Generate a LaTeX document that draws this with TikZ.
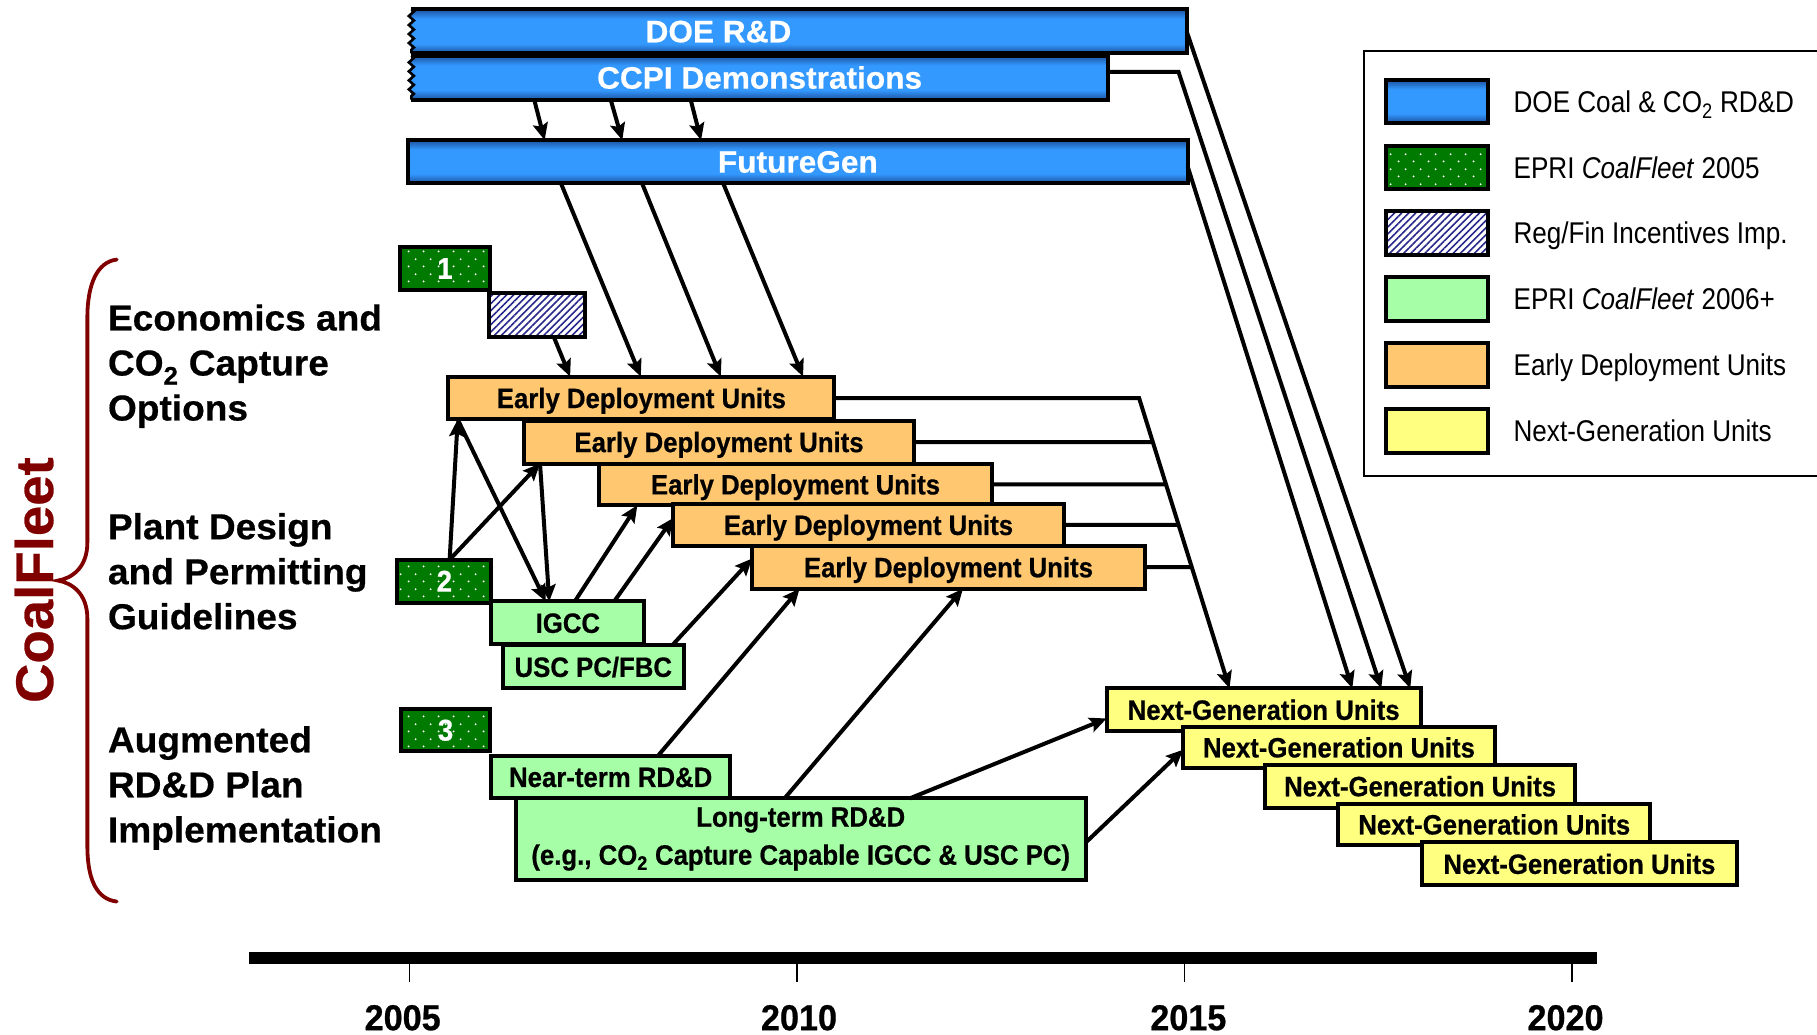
\documentclass[tikz,border=0pt]{standalone}
\usepackage{fontspec}
\setmainfont{Liberation Sans}
\newfontfamily\boxfont[FakeStretch=0.92,BoldFeatures={FakeBold=0.6}]{Liberation Sans}
\newfontfamily\barfont[FakeStretch=1.02,BoldFeatures={FakeBold=0.5}]{Liberation Sans}
\newfontfamily\legfont[FakeStretch=0.87]{Liberation Sans}
\newfontfamily\widefont[FakeStretch=1.03,BoldFeatures={FakeBold=0.5}]{Liberation Sans}
\newfontfamily\yearfont[FakeStretch=0.95,BoldFeatures={FakeBold=0.6}]{Liberation Sans}
\usetikzlibrary{calc,arrows.meta,patterns,patterns.meta,decorations.pathmorphing}

\definecolor{bluemid}{RGB}{51,153,255}
\definecolor{bluedk}{RGB}{28,82,160}
\definecolor{orlight}{RGB}{255,200,112}
\definecolor{ordark}{RGB}{255,153,0}
\definecolor{yelight}{RGB}{255,255,128}
\definecolor{yedark}{RGB}{255,255,0}
\definecolor{ltgreen}{RGB}{166,255,166}
\definecolor{dkgreen}{RGB}{0,122,0}
\definecolor{hatchblue}{RGB}{40,40,140}
\definecolor{cfred}{RGB}{128,0,0}

\pgfdeclareverticalshading{bluebar}{100bp}{color(0bp)=(bluedk); color(25bp)=(bluedk); color(36bp)=(bluemid); color(64bp)=(bluemid); color(75bp)=(bluedk); color(100bp)=(bluedk)}

\tikzdeclarepattern{
  name=sparsedots,
  type=uncolored,
  bounding box={(0pt,0pt) and (15pt,15pt)},
  tile size={(15pt,15pt)},
  code={\fill (3.75pt,3.75pt) circle[radius=1.1pt]; \fill (11.25pt,11.25pt) circle[radius=1.1pt];}
}

\begin{document}
\begin{tikzpicture}[x=1.1588pt,y=-1.1588pt,
  bx/.style n args={4}{minimum width={(#3-#1)*1.1588pt},minimum height={(#4-#2)*1.1588pt},at={({(#1+#3)/2},{(#2+#4)/2})}},
  box/.style={draw=black,line width=4pt,inner sep=0pt,outer sep=0pt,text height=20pt,text depth=0pt,font=\boxfont\bfseries\fontsize{28}{38}\selectfont},
  bluebarbox/.style={shade,shading=bluebar,inner sep=0pt,outer sep=0pt,text=white,text height=22pt,text depth=0pt,font=\barfont\bfseries\fontsize{31}{36}\selectfont},
  edu/.style={box,left color=orlight,middle color=ordark,right color=orlight},
  ngu/.style={box,left color=yelight,middle color=yedark,right color=yelight},
  lgr/.style={box,fill=ltgreen},
  dgr/.style={box,preaction={fill=dkgreen},pattern=sparsedots,pattern color=white,text=white,text height=21pt,font=\boxfont\bfseries\fontsize{30}{36}\selectfont},
  hatchbox/.style={box,preaction={fill=white},pattern={Lines[angle=45,distance=5pt,line width=1.6pt]},pattern color=hatchblue},
  arr/.style={line width=4pt,-{Stealth[length=17pt,width=15pt,inset=3pt]}},
  ln/.style={line width=4pt},
  lab/.style={align=left,inner sep=0pt,anchor=west,font=\widefont\bfseries\fontsize{36}{45}\selectfont},
  legtxt/.style={anchor=west,inner sep=0pt,text height=21.5pt,text depth=0pt,font=\legfont\fontsize{30}{36}\selectfont},
  year/.style={anchor=base,inner sep=0pt,font=\yearfont\bfseries\fontsize{36}{40}\selectfont}
]
\useasboundingbox (0,0) rectangle (1568,893);
\fill[white] (0,0) rectangle (1568,893);

% ---- top blue bars
\node[bluebarbox,bx={355}{8}{1024}{46}] (doe) {};
\draw[line width=4pt] (doe.north west) -- (doe.north east) -- (doe.south east) -- (doe.south west);
\draw[line width=2.6pt,decorate,decoration={zigzag,segment length=9pt,amplitude=2.5pt}] (doe.north west) -- (doe.south west);
\node[text=white,inner sep=0pt,text height=22pt,text depth=0pt,font=\barfont\bfseries\fontsize{31}{36}\selectfont] (doetxt) at (620,27) {DOE R\&D};

\node[bluebarbox,bx={355}{48}{956}{86}] (ccpi) {CCPI Demonstrations};
\draw[line width=4pt] (ccpi.north west) -- (ccpi.north east) -- (ccpi.south east) -- (ccpi.south west);
\draw[line width=2.6pt,decorate,decoration={zigzag,segment length=9pt,amplitude=2.5pt}] (ccpi.north west) -- (ccpi.south west);

\node[bluebarbox,draw=black,line width=4pt,bx={352}{121}{1025}{158}] (fg) {FutureGen};

% ---- left side boxes
\node[dgr,bx={345}{213}{423}{250}] (g1) {1};
\node[hatchbox,bx={422}{253}{505}{291}] (hat) {};

\node[edu,bx={387}{325}{720}{362}] (e1) {Early Deployment Units};
\node[edu,bx={452}{363}{789}{400}] (e2) {Early Deployment Units};
\node[edu,bx={517}{400}{856}{436}] (e3) {Early Deployment Units};
\node[edu,bx={581}{435}{918}{471}] (e4) {Early Deployment Units};
\node[edu,bx={649}{471}{988}{508}] (e5) {Early Deployment Units};

\node[dgr,bx={343}{483}{424}{520}] (g2) {2};
\node[lgr,bx={424}{519}{556}{556}] (igcc) {IGCC};
\node[lgr,bx={434}{557}{590}{594}] (usc) {USC PC/FBC};

\node[dgr,bx={346}{612}{423}{648}] (g3) {3};
\node[lgr,bx={424}{652}{630}{689}] (near) {Near-term RD\&D};
\node[lgr,bx={445}{689}{937}{759},align=center,text height=,text depth=] (long) {Long-term RD\&D\\(e.g., CO\textsubscript{2} Capture Capable IGCC \& USC PC)};

% ---- next generation
\node[ngu,bx={955}{594}{1226}{631}] (n1) {Next-Generation Units};
\node[ngu,bx={1021}{627}{1290}{663}] (n2) {Next-Generation Units};
\node[ngu,bx={1092}{660}{1359}{697}] (n3) {Next-Generation Units};
\node[ngu,bx={1155}{694}{1424}{729}] (n4) {Next-Generation Units};
\node[ngu,bx={1227}{727}{1499}{764}] (n5) {Next-Generation Units};

% ---- connectors
\draw[arr] ($(ccpi.south west)+(106,0)$) -- ($(fg.north west)+(118,0)$);
\draw[arr] ($(ccpi.south west)+(172,0)$) -- ($(fg.north west)+(185,0)$);
\draw[arr] ($(ccpi.south west)+(241,0)$) -- ($(fg.north west)+(253,0)$);

\draw[arr] ($(fg.south west)+(132,0)$) -- ($(e1.north west)+(166,0)$);
\draw[arr] ($(fg.south west)+(202,0)$) -- ($(e1.north west)+(235,0)$);
\draw[arr] ($(fg.south west)+(272,0)$) -- ($(e1.north west)+(306,0)$);

\draw[arr] ($(hat.south west)+(56,0)$) -- ($(e1.north west)+(105,0)$);

\draw[arr] ($(g2.north west)+(45,0)$) -- ($(e1.south west)+(8,0)$);
\draw[arr] ($(g2.north west)+(45,0)$) -- ($(e2.south west)+(14,0)$);
\draw[arr] ($(e1.south west)+(8,0)$) -- ($(igcc.north west)+(47,0)$);
\draw[arr] ($(e2.south west)+(14,0)$) -- ($(igcc.north west)+(50,0)$);
\draw[arr] ($(igcc.north west)+(72,0)$) -- ($(e3.south west)+(33,0)$);
\draw[arr] ($(igcc.north west)+(106,0)$) -- ($(e4.north west)+(0,12)$);
\draw[arr] ($(usc.north west)+(146,0)$) -- ($(e5.north west)+(0,11)$);
\draw[arr] ($(near.north west)+(144,0)$) -- ($(e5.south west)+(41,0)$);
\draw[arr] ($(long.north west)+(232,0)$) -- ($(e5.south west)+(182,0)$);
\draw[arr] ($(long.north west)+(340,0)$) -- ($(n1.north west)+(0,26)$);
\draw[arr] ($(long.north east)+(0,38)$) -- ($(n2.north west)+(0,20)$);

\coordinate (jt) at ($(e1.east)+(263,0)$);
\coordinate (jb) at ($(n1.north west)+(106,0)$);
\draw[arr] (e1.east) -- (jt) -- (jb);
\draw[ln] (e2.east) -- ($(jt)!0.1517!(jb)$);
\draw[ln] (e3.east) -- ($(jt)!0.2974!(jb)$);
\draw[ln] (e4.east) -- ($(jt)!0.4371!(jb)$);
\draw[ln] (e5.east) -- ($(jt)!0.5828!(jb)$);

\draw[arr] (doe.east) -- ($(n1.north west)+(262,0)$);
\draw[arr] ($(ccpi.north east)+(0,14)$) -- ($(ccpi.north east)+(61,14)$) -- ($(n1.north west)+(237,0)$);
\draw[arr] ($(fg.north east)+(0,23)$) -- ($(n1.north west)+(212,0)$);

% ---- left labels and brace
\node[lab] (lab1) at (93,316) {Economics and\\CO\textsubscript{2} Capture\\Options};
\node[lab] (lab2) at (93,493) {Plant Design\\and Permitting\\Guidelines};
\node[lab] (lab3) at (93,680) {Augmented\\RD\&D Plan\\Implementation};
\node[rotate=90,text=cfred,inner sep=0pt,font=\widefont\bfseries\fontsize{53}{60}\selectfont] (cf) at (29.4,500.6) {CoalFleet};
\draw[cfred,line width=3.8pt,line cap=round] (100.7,224) .. controls (84,226) and (75.4,245) .. (75.4,274) -- (75.4,468) .. controls (75.4,490) and (62,499) .. (50,501) .. controls (62,503) and (75.4,512) .. (75.4,534) -- (75.4,730) .. controls (75.4,760) and (84,776) .. (100.7,778);

% ---- time axis
\fill[black] (215,821.8) rectangle (1378,831.6);
\foreach \tx in {353.2,687.8,1022,1356.6} \draw[line width=1.5pt] (\tx,831.6) -- (\tx,847);
\node[year] (y05) at (347.5,889) {2005};
\node[year] (y10) at (689.5,889) {2010};
\node[year] (y15) at (1025.5,889) {2015};
\node[year] (y20) at (1351,889) {2020};

% ---- legend
\draw[line width=2pt] (1177,44) rectangle (1600,411);
\node[box,shade,shading=bluebar,bx={1196}{69}{1284}{106}] (l1) {};
\node[dgr,bx={1196}{126}{1284}{163}] (l2) {};
\node[hatchbox,bx={1196}{182}{1284}{220}] (l3) {};
\node[lgr,bx={1196}{239}{1284}{277}] (l4) {};
\node[edu,bx={1196}{296}{1284}{334}] (l5) {};
\node[ngu,bx={1196}{353}{1284}{391}] (l6) {};
\node[legtxt] (t1) at (1306,87.5) {DOE Coal \& CO\textsubscript{2} RD\&D};
\node[legtxt] (t2) at (1306,144.5) {EPRI \textit{CoalFleet} 2005};
\node[legtxt] (t3) at (1306,201) {Reg/Fin Incentives Imp.};
\node[legtxt] (t4) at (1306,258) {EPRI \textit{CoalFleet} 2006+};
\node[legtxt] (t5) at (1306,315) {Early Deployment Units};
\node[legtxt] (t6) at (1306,372) {Next-Generation Units};
\end{tikzpicture}
\end{document}
